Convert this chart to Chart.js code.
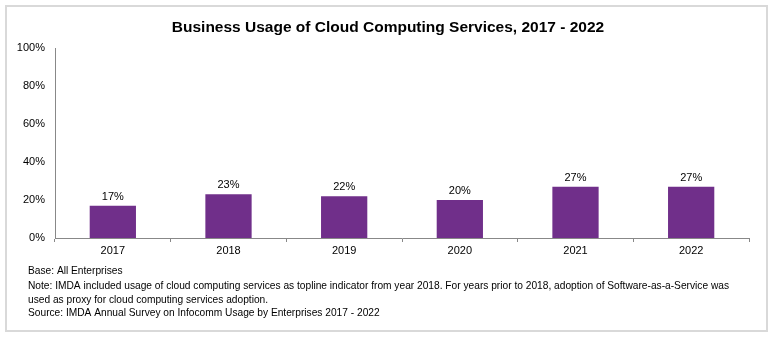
<!DOCTYPE html>
<html><head><meta charset="utf-8">
<script src="https://cdn.jsdelivr.net/npm/chart.js@4"></script>
<style>html,body{margin:0;padding:0;background:#fff}#wrap{position:relative;width:774px;height:341px}</style>
</head><body><div id="wrap"><canvas id="c" width="774" height="341"></canvas></div>
<script>
const categories = ['2017','2018','2019','2020','2021','2022'];
const usage = [17, 23, 22, 20, 27, 27];
const yTicks = [0, 20, 40, 60, 80, 100];
const titleText = 'Business Usage of Cloud Computing Services, 2017 - 2022';
const footLines = [
  'Base: All Enterprises',
  'Note: IMDA included usage of cloud computing services as topline indicator from year 2018. For years prior to 2018, adoption of Software-as-a-Service was',
  'used as proxy for cloud computing services adoption.',
  'Source: IMDA Annual Survey on Infocomm Usage by Enterprises 2017 - 2022'
];

const decor = {
  id: 'decor',
  beforeDraw(chart) {
    const ctx = chart.ctx;
    ctx.save();
    ctx.fillStyle = '#fff';
    ctx.fillRect(0, 0, chart.width, chart.height);
    ctx.strokeStyle = '#d9d9d9';
    ctx.lineWidth = 2;
    ctx.strokeRect(6, 6, 761, 325);
    ctx.restore();
  },
  afterDraw(chart) {
    const ctx = chart.ctx;
    ctx.save();
    ctx.fillStyle = '#000';
    ctx.font = 'bold 15.5px "Liberation Sans", Arial, sans-serif';
    ctx.textAlign = 'center';
    ctx.textBaseline = 'middle';
    ctx.fillText(titleText, 388, 28);
    // data labels
    const meta = chart.getDatasetMeta(0);
    ctx.font = '11px "Liberation Sans", Arial, sans-serif';
    ctx.textBaseline = 'alphabetic';
    meta.data.forEach((bar, i) => {
      ctx.fillText(usage[i] + '%', bar.x, bar.y - 6);
    });
    // footnotes
    ctx.textAlign = 'left';
    ctx.font = '10.2px "Liberation Sans Narrow", "Arial Narrow", sans-serif';
    const ys = [274, 289, 303, 316];
    footLines.forEach((t, i) => ctx.fillText(t, 28, ys[i]));
    ctx.restore();
  }
};

new Chart(document.getElementById('c'), {
  type: 'bar',
  data: {
    labels: categories,
    datasets: [{
      data: usage,
      backgroundColor: '#702F8A',
      categoryPercentage: 0.4,
      barPercentage: 1.0
    }]
  },
  options: {
    responsive: false,
    animation: false,
    devicePixelRatio: 1,
    layout: { padding: { left: 0, right: 25, top: 48, bottom: 83 } },
    plugins: { legend: { display: false }, tooltip: { enabled: false }, title: { display: false } },
    scales: {
      x: {
        offset: true,
        grid: { display: true, drawOnChartArea: false, drawTicks: true, tickLength: 4, color: '#888', offset: true },
        border: { color: '#888', width: 1 },
        ticks: { color: '#000', font: { size: 11, family: '"Liberation Sans", Arial, sans-serif' }, padding: 2 },
        afterFit(s) { s.height = 20; }
      },
      y: {
        min: 0, max: 100,
        afterBuildTicks(s) { s.ticks = yTicks.map(v => ({ value: v })); },
        grid: { display: false, drawTicks: false },
        border: { color: '#888', width: 1 },
        ticks: {
          color: '#000', padding: 10,
          font: { size: 11, family: '"Liberation Sans", Arial, sans-serif' },
          callback: v => v + '%'
        },
        afterFit(s) { s.width = 55; }
      }
    }
  },
  plugins: [decor]
});
</script></body></html>
